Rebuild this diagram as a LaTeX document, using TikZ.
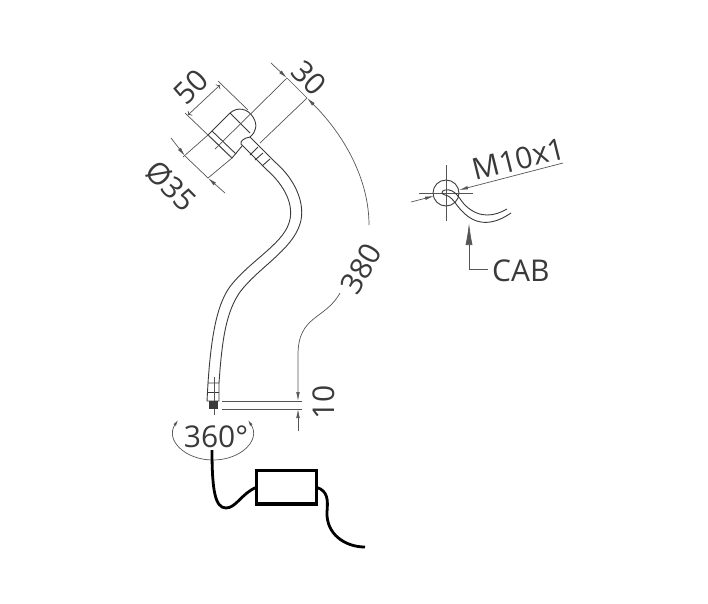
\documentclass[tikz,border=0pt]{standalone}
\usepackage{fontspec}
\setmainfont{Open Sans}
\usetikzlibrary{arrows.meta}
\definecolor{inkgray}{HTML}{3A3A3A}
\definecolor{dimgray}{HTML}{555555}
\tikzset{
  dimline/.style={draw=dimgray, line width=0.7pt},
  dimtip/.style={dimline, -{Latex[length=9pt,width=3.6pt]}},
  partline/.style={draw=inkgray, line width=0.9pt},
  cableline/.style={draw=black, line width=2.8pt},
  dimlabel/.style={text=inkgray, font=\fontsize{30}{30}\selectfont, inner sep=0pt},
}
\begin{document}
\begin{tikzpicture}[x=1pt,y=-1pt]
        \useasboundingbox (0, 0) rectangle (708, 603);

        % head
        \draw[partline] (230, 113) .. controls (238, 106) and (248, 109) .. (253, 117)
            .. controls (258, 125) and (256, 132) .. (250, 137);
        \draw[partline] (230, 113) -- (250, 133);
        \draw[partline] (230, 113) -- (208, 135) -- (232, 158) -- (242, 146);
        \draw[partline] (212, 131) -- (236, 154);
        % neck
        \draw[partline] (250, 137) -- (275, 162);
        \draw[partline] (250, 137) .. controls (244, 138) and (240, 141) .. (241, 144) -- (267, 170);
        \draw[partline] (258, 147) -- (250, 155);
        \draw[partline] (263, 153) -- (255, 160);
        \draw[partline] (270, 159) -- (262, 166);
        % flexible arm
        \draw[partline] (275, 162) .. controls (296, 180) and (306, 205) .. (300, 224)
            .. controls (292, 250) and (258, 268) .. (240, 292)
            .. controls (226, 312) and (222, 340) .. (219, 383);
        \draw[partline] (267, 170) .. controls (284, 185) and (295, 205) .. (289, 223)
            .. controls (282, 245) and (248, 262) .. (229, 288)
            .. controls (216, 307) and (211, 340) .. (208, 383);
        % collar
        \draw[partline] (208, 383) -- (219, 383) -- (219, 401) -- (207, 401) -- cycle;
        \draw[partline] (207, 392) -- (219, 392);
        \draw[dimline] (214, 377) -- (214, 415);
        \fill[inkgray] (209, 401) rectangle (218, 409);

        % 50
        \draw[dimline] (218, 81) -- (248, 110);
        \draw[dimline] (185, 113) -- (232, 158);
        \draw[dimtip, <->] (188, 115) -- (220, 85);
        % 30
        \draw[dimline] (287, 78) -- (215, 149);
        \draw[dimline] (307, 98) -- (260, 143);
        \draw[dimtip] (271, 63) -- (287, 78);
        \draw[dimline] (287, 78) -- (307, 98);
        % 380
        \coordinate (arcTop) at (307, 98);
        \coordinate (arcEnd) at (369, 225);
        \draw[dimtip] (arcEnd) .. controls (369, 180) and (345, 136) .. (arcTop);
        \draw[dimtip] (340, 293) .. controls (325, 320) and (298, 315) .. (298, 355) -- (298, 401);
        % 35
        \draw[dimline] (183, 157) -- (208, 135);
        \draw[dimline] (208, 178) -- (232, 158);
        \draw[dimtip] (171, 138) -- (185, 156);
        \draw[dimline] (185, 156) -- (208, 178);
        \draw[dimtip] (225, 193) -- (208, 178);
        % 10
        \draw[dimline] (222, 401) -- (302, 401);
        \draw[dimline] (222, 409) -- (302, 409);
        \draw[dimtip] (298, 431) -- (298, 409);

        \node[dimlabel, rotate=45] (lblFifty) at (191, 87) {50};
        \node[dimlabel, rotate=-45] (lblThirty) at (309, 78) {30};
        \node[dimlabel, rotate=-45] (lblDia) at (171, 186) {Ø35};
        \node[dimlabel, rotate=60] (lblLength) at (361, 269) {380};
        \node[dimlabel, rotate=90] (lblTen) at (324, 402) {10};
        \node[dimlabel] (lblTurn) at (216, 437) {360°};

        % rotation
        \draw[dimline, {Latex[length=6pt,width=3pt]}-{Latex[length=6pt,width=3pt]}] (178, 420)
            .. controls (165, 440) and (185, 460) .. (213, 460)
            .. controls (241, 460) and (261, 440) .. (248, 420);

        % cable and box
        \node[cableline, line width=3.2pt, outer sep=0pt, minimum width=60pt, minimum height=33.5pt, inner sep=0pt, anchor=north west] (ctrlBox) at (256.5, 470.5) {};
        \draw[cableline] (212, 450) .. controls (212, 490) and (215, 508) .. (226, 508)
            .. controls (236, 508) and (242, 493) .. (ctrlBox.west);
        \draw[cableline] (ctrlBox.east) .. controls (328, 491) and (328, 500) .. (327, 512)
            .. controls (326, 534) and (345, 547) .. (365, 547);

        % thread detail
        \draw[partline] (446, 193) circle (13);
        \draw[dimline] (419, 193) -- (473, 193);
        \draw[dimline] (446, 165) -- (446, 221);
        \draw[dimtip] (411, 202) -- (434, 196);
        \draw[dimtip] (563, 163) -- (459, 190);
        \draw[partline] (445, 190) .. controls (456, 188) and (460, 201) .. (466, 206)
            .. controls (480, 219) and (495, 216) .. (507, 209);
        \draw[partline] (445, 190) .. controls (441, 191) and (441, 194) .. (445, 195)
            .. controls (452, 196) and (456, 205) .. (461, 210)
            .. controls (477, 228) and (495, 224) .. (511, 213);
        \draw[dimline, -{Latex[length=22pt,width=7pt]}] (488, 269) -- (469, 269) -- (469, 223);

        \node[dimlabel, rotate=14] (lblThread) at (519, 159) {M10x1};
        \node[dimlabel, anchor=west] (lblCab) at (492, 271) {CAB};

    \end{tikzpicture}
\end{document}
